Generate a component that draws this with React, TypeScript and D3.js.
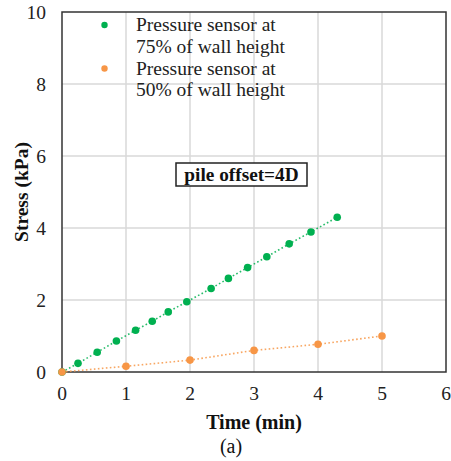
import React from "react";
import * as d3 from "d3";

// Stress measured over time at two wall heights (pile offset = 4D)
const timeUpper = [0, 0.25, 0.55, 0.85, 1.15, 1.41, 1.66, 1.95, 2.33, 2.6, 2.9, 3.2, 3.55, 3.89, 4.3];
const stressUpper = [0, 0.24, 0.55, 0.86, 1.16, 1.41, 1.67, 1.95, 2.32, 2.6, 2.9, 3.2, 3.56, 3.89, 4.3];
const timeMid = [0, 1, 2, 3, 4, 5];
const stressMid = [0, 0.16, 0.33, 0.6, 0.77, 1.0];

const xTicks = [0, 1, 2, 3, 4, 5, 6];
const yTicks = [0, 2, 4, 6, 8, 10];

const seriesNames = [
  ["Pressure sensor at", "75% of wall height"],
  ["Pressure sensor at", "50% of wall height"],
];
const seriesColors = ["#00b050", "#f79646"];

const W = 451;
const H = 461;
const plot = { left: 62, right: 446, top: 12, bottom: 372 };
const txt = { fontFamily: '"Liberation Serif", "Times New Roman", Times, "DejaVu Serif", serif' };

export default function App() {
  const x = d3.scaleLinear().domain([0, 6]).range([plot.left, plot.right]);
  const y = d3.scaleLinear().domain([0, 10]).range([plot.bottom, plot.top]);
  const line = d3
    .line<[number, number]>()
    .x((d) => x(d[0]))
    .y((d) => y(d[1]));

  const series = [
    timeUpper.map((t, i) => [t, stressUpper[i]] as [number, number]),
    timeMid.map((t, i) => [t, stressMid[i]] as [number, number]),
  ];

  return (
    <svg
      width={W}
      height={H}
      style={{ position: "absolute", left: 0, top: 0, background: "#fff" }}
    >
      {/* gridlines */}
      {xTicks.slice(1, -1).map((t) => (
        <line key={"gx" + t} x1={x(t)} x2={x(t)} y1={plot.top} y2={plot.bottom} stroke="#d9d9d9" strokeWidth={1.5} />
      ))}
      {yTicks.slice(1, -1).map((t) => (
        <line key={"gy" + t} x1={plot.left} x2={plot.right} y1={y(t)} y2={y(t)} stroke="#d9d9d9" strokeWidth={1.5} />
      ))}

      {/* plot frame */}
      <rect
        x={plot.left}
        y={plot.top}
        width={plot.right - plot.left}
        height={plot.bottom - plot.top}
        fill="none"
        stroke="#333"
        strokeWidth={1.5}
      />

      {/* tick labels */}
      {xTicks.map((t) => (
        <text key={"tx" + t} x={x(t)} y={400} textAnchor="middle" fontSize={19.5} fill="#222" style={txt}>
          {t}
        </text>
      ))}
      {yTicks.map((t) => (
        <text key={"ty" + t} x={46} y={y(t)} dy="0.35em" textAnchor="end" fontSize={19.5} fill="#222" style={txt}>
          {t}
        </text>
      ))}

      {/* axis titles */}
      <text x={x(3)} y={429} textAnchor="middle" fontSize={20} fontWeight="bold" fill="#111" style={txt}>
        Time (min)
      </text>
      <text
        transform={`translate(28,${(plot.top + plot.bottom) / 2}) rotate(-90)`}
        textAnchor="middle"
        fontSize={19.5}
        fontWeight="bold"
        fill="#111"
        style={txt}
      >
        Stress (kPa)
      </text>
      <text x={231} y={453} textAnchor="middle" fontSize={20} fill="#111" style={txt}>
        (a)
      </text>

      {/* series lines and markers */}
      {series.map((pts, i) => (
        <g key={"s" + i}>
          <path
            d={line(pts) || ""}
            fill="none"
            stroke={seriesColors[i]}
            strokeOpacity={0.85}
            strokeWidth={1.6}
            strokeDasharray="1.6 2.4"
          />
          {pts.map((p, j) => (
            <circle key={j} cx={x(p[0])} cy={y(p[1])} r={3.8} fill={seriesColors[i]} />
          ))}
        </g>
      ))}

      {/* annotation box */}
      <rect x={176} y={163} width={131} height={23} fill="#fff" stroke="#222" strokeWidth={1.5} />
      <text x={241.5} y={180.5} textAnchor="middle" fontSize={19.3} fontWeight="bold" fill="#111" style={txt}>
        pile offset=4D
      </text>

      {/* legend */}
      {seriesNames.map((lines, i) => (
        <g key={"lg" + i}>
          <circle cx={104.5} cy={25 + i * 43.5} r={3.2} fill={seriesColors[i]} />
          {lines.map((s, k) => (
            <text key={k} x={136} y={31 + i * 43.5 + k * 21.5} fontSize={19.5} fill="#222" style={txt}>
              {s}
            </text>
          ))}
        </g>
      ))}
    </svg>
  );
}
